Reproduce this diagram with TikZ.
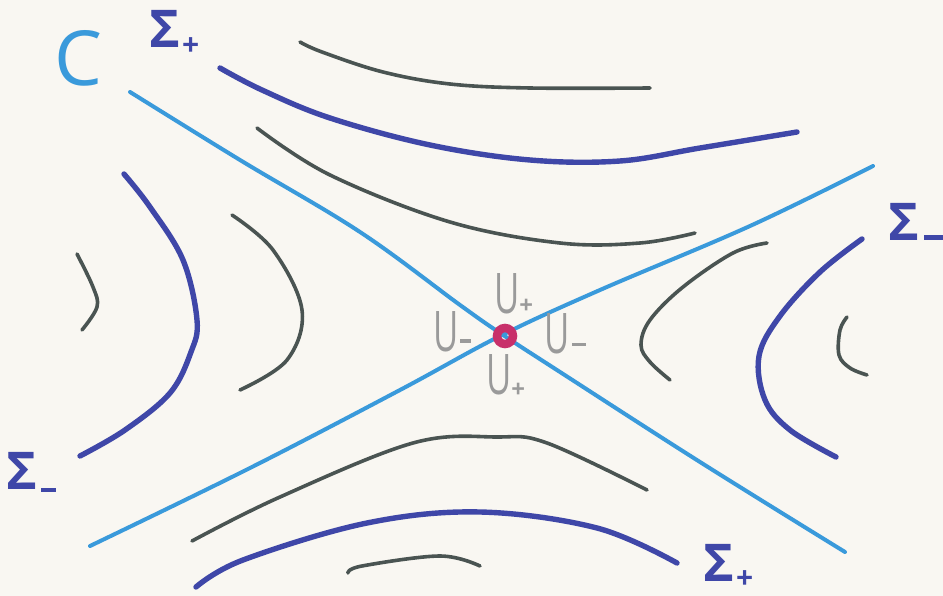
\documentclass[tikz,border=0pt]{standalone}
\usepackage{fontspec}
\setmainfont{Open Sans}
\definecolor{bg}{HTML}{F9F7F2}
\definecolor{cblue}{HTML}{3A9ADB}
\definecolor{sblue}{HTML}{3F47A8}
\definecolor{dgray}{HTML}{4A5452}
\definecolor{lgray}{HTML}{9A9A9A}
\definecolor{mag}{HTML}{C8306A}
\tikzset{
  cline/.style={cblue, line width=4pt, line cap=round, line join=round},
  sline/.style={sblue, line width=5.4pt, line cap=round, line join=round},
  gline/.style={dgray, line width=3.6pt, line cap=round, line join=round},
  slabel/.style={sblue, font=\fontsize{52}{52}\selectfont\bfseries, inner sep=0pt, anchor=base west},
  ulabel/.style={lgray, font=\fontsize{56}{56}\selectfont, inner sep=0pt, anchor=base west},
}
\newcommand{\supp}[2]{\raisebox{#1}{\fontsize{#2}{#2}\selectfont\bfseries +}}
\newcommand{\narrowU}{\scalebox{0.62}[1]{U}}
\begin{document}
\begin{tikzpicture}[x=1pt,y=-1pt]
\fill[bg] (0,0) rectangle (943,596);
\useasboundingbox (0,0) rectangle (943,596);
% C lines
\draw[cline] plot[smooth, tension=0.6] coordinates {(130,92) (240,160) (360,232) (460,305) (500,333) (560,372) (700,462) (845,552)};
\draw[cline] plot[smooth, tension=0.6] coordinates {(90,546) (250,468) (400,390) (500,336) (600,290) (750,226) (873,166)};
% Sigma curves
\draw[sline] plot[smooth, tension=0.6] coordinates {(220,68) (262,90) (330,118) (430,145) (530,160) (620,161) (700,148) (797,132)};
\draw[sline] plot[smooth, tension=0.6] coordinates {(196,587) (243,560) (367,523) (480,512) (597,528) (677,563)};
\draw[sline] plot[smooth, tension=0.6] coordinates {(124,174) (150,207) (183,260) (197,320) (191,352) (170,393) (125,430) (80,456)};
\draw[sline] plot[smooth, tension=0.6] coordinates {(862,239) (820,272) (780,316) (759,356) (765,400) (790,430) (836,457)};
% gray curves
\draw[gline] plot[smooth, tension=0.6] coordinates {(300,42) (322,52) (383,72) (450,84) (530,88) (650,88)};
\draw[gline] plot[smooth, tension=0.6] coordinates {(257,128) (330,175) (450,222) (560,243) (640,243) (695,233)};
\draw[gline] plot[smooth, tension=0.6] coordinates {(192,541) (280,497) (413,443) (497,437) (547,443) (647,490)};
\draw[gline] plot[smooth, tension=0.6] coordinates {(348,573) (362,566) (440,556) (480,566)};
\draw[gline] plot[smooth, tension=0.6] coordinates {(232,215) (273,250) (302,310) (287,360) (240,390)};
\draw[gline] plot[smooth, tension=0.6] coordinates {(77,254) (93,287) (97,307) (82,330)};
\draw[gline] plot[smooth, tension=0.6] coordinates {(767,243) (733,253) (683,287) (650,320) (641,345) (650,362) (670,380)};
\draw[gline] plot[smooth, tension=0.6] coordinates {(847,317) (840,330) (839,355) (850,368) (867,375)};
% saddle point
\node[draw=mag, line width=8.5pt, circle, minimum size=16pt, inner sep=0pt] (p) at (505,336) {};
% labels
\node[cblue, font=\fontsize{76}{76}\selectfont, inner sep=0pt, anchor=base west] (c) at (54,86) {C};
\node[slabel] (s1) at (149,48) {Σ\hspace{2pt}\supp{-8pt}{30}};
\node[slabel] (s2) at (888,241) {Σ\hspace{5pt}\rule[1pt]{19pt}{4.5pt}};
\node[slabel] (s3) at (6,489) {Σ\hspace{4pt}\rule[-3pt]{15pt}{4.5pt}};
\node[slabel] (s4) at (703,581) {Σ\hspace{2pt}\supp{-7pt}{30}};
\node[ulabel] (u1) at (494,313) {\narrowU\supp{0pt}{24}};
\node[ulabel] (u2) at (433,351) {\narrowU\hspace{2pt}\rule[8pt]{11pt}{3.5pt}};
\node[ulabel] (u3) at (544,353) {\narrowU\hspace{3pt}\rule[7pt]{14pt}{3.5pt}};
\node[ulabel] (u4) at (486,394) {\narrowU\supp{-3pt}{24}};
\end{tikzpicture}
\end{document}
